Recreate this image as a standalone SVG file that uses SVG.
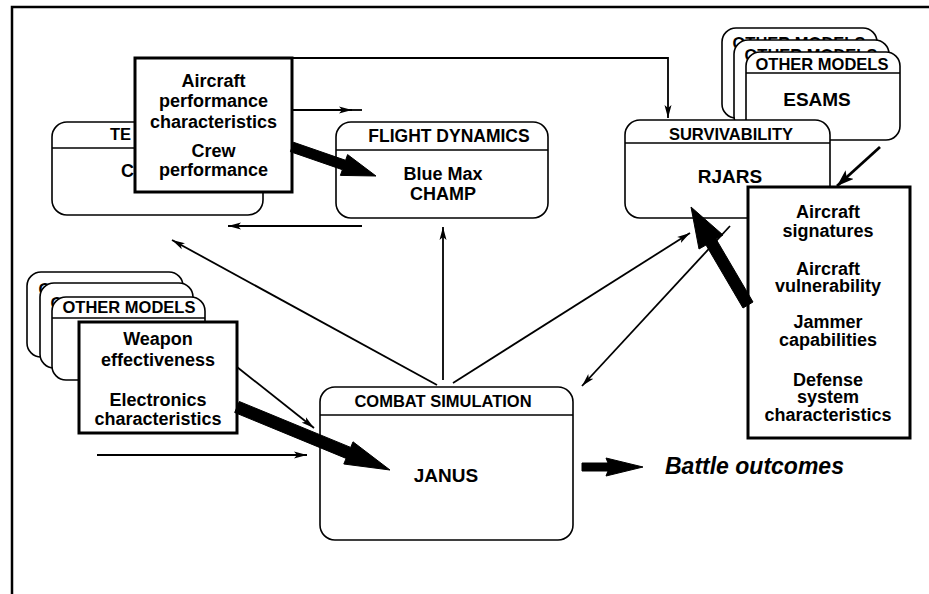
<svg xmlns="http://www.w3.org/2000/svg" width="929" height="594" viewBox="0 0 929 594">
<defs>
<style>
.node{fill:#fff;stroke:#000;stroke-width:1.6}
.hdr{fill:none;stroke:#000;stroke-width:1.6}
.data{fill:#fff;stroke:#000;stroke-width:3}
.t{font-family:"Liberation Sans",Arial,Helvetica,sans-serif;font-weight:bold;fill:#000;text-anchor:middle}
.h{font-size:16.5px}
.b{font-size:18px}
.c{fill:none;stroke:#000;stroke-width:1.8}
.thick{fill:#000;stroke:#000;stroke-width:1}
</style>
<marker id="ah" markerUnits="userSpaceOnUse" markerWidth="14" markerHeight="8" refX="13" refY="4" orient="auto">
<path d="M0,0.5 L13,4 L0,7.5 L3,4 z" fill="#000"/>
</marker>
<marker id="ahL" markerUnits="userSpaceOnUse" markerWidth="18" markerHeight="12" refX="17" refY="6" orient="auto">
<path d="M0,0 L17,6 L0,12 L4,6 z" fill="#000"/>
</marker>
</defs>
<rect width="929" height="594" fill="#fff"/>
<!-- frame -->
<path d="M12,594 V7 H929" fill="none" stroke="#000" stroke-width="2.5"/>

<!-- tech node (partially hidden) -->
<g id="node-tech">
<rect class="node" x="52" y="122" width="211" height="93" rx="15"/>
<line class="hdr" x1="52" y1="148" x2="263" y2="148"/>
<text class="t h" x="110" y="140" style="text-anchor:start">TE</text>
<text class="t b" x="121" y="177" style="text-anchor:start">C</text>
</g>

<!-- other models stack left -->
<g id="node-other-left">
<rect class="node" x="27" y="272" width="156" height="85" rx="14"/>
<text class="t h" x="105" y="295">OTHER MODELS</text>
<rect class="node" x="40" y="283" width="153" height="85" rx="14"/>
<text class="t h" x="117" y="309">OTHER MODELS</text>
<rect class="node" x="52" y="297" width="153" height="83" rx="14"/>
<line class="hdr" x1="52" y1="318" x2="205" y2="318"/>
<text class="t h" x="129" y="313">OTHER MODELS</text>
</g>

<!-- other models stack right (ESAMS) -->
<g id="node-esams">
<rect class="node" x="722" y="28" width="155" height="90" rx="14"/>
<text class="t h" x="799" y="49">OTHER MODELS</text>
<rect class="node" x="734" y="40" width="155" height="90" rx="14"/>
<text class="t h" x="811" y="61">OTHER MODELS</text>
<rect class="node" x="746" y="52" width="154" height="88" rx="14"/>
<line class="hdr" x1="746" y1="73" x2="900" y2="73"/>
<text class="t h" x="822" y="70">OTHER MODELS</text>
<text class="t b" x="817" y="106" style="font-size:19px">ESAMS</text>
</g>

<!-- flight dynamics -->
<g id="node-flight">
<rect class="node" x="336" y="122" width="212" height="96" rx="15"/>
<line class="hdr" x1="336" y1="150" x2="548" y2="150"/>
<text class="t" x="449" y="142" style="font-size:17.5px">FLIGHT DYNAMICS</text>
<text class="t b" x="443" y="180">Blue Max</text>
<text class="t b" x="443" y="200">CHAMP</text>
</g>

<!-- survivability -->
<g id="node-surv">
<rect class="node" x="625" y="120" width="205" height="98" rx="15"/>
<line class="hdr" x1="625" y1="143" x2="830" y2="143"/>
<text class="t" x="731" y="140" style="font-size:16.5px">SURVIVABILITY</text>
<text class="t b" x="730" y="183" style="font-size:19px">RJARS</text>
</g>

<!-- combat simulation -->
<g id="node-combat">
<rect class="node" x="320" y="387" width="253" height="153" rx="15"/>
<line class="hdr" x1="320" y1="415" x2="573" y2="415"/>
<text class="t h" x="443" y="407">COMBAT SIMULATION</text>
<text class="t b" x="446" y="482" style="font-size:19px">JANUS</text>
</g>

<!-- aircraft performance data box -->
<g id="node-aircraft-perf">
<rect class="data" x="135" y="58" width="157" height="134"/>
<text class="t b" x="213.5" y="87">Aircraft</text>
<text class="t b" x="213.5" y="107">performance</text>
<text class="t b" x="213.5" y="128">characteristics</text>
<text class="t b" x="213.5" y="157">Crew</text>
<text class="t b" x="213.5" y="176">performance</text>
</g>

<!-- weapon data box -->
<g id="node-weapon">
<rect class="data" x="79" y="322" width="158" height="111"/>
<text class="t b" x="158" y="345">Weapon</text>
<text class="t b" x="158" y="366">effectiveness</text>
<text class="t b" x="158" y="406">Electronics</text>
<text class="t b" x="158" y="425">characteristics</text>
</g>

<!-- signatures data box -->
<g id="node-signatures">
<rect class="data" x="748" y="187" width="162" height="251"/>
<text class="t b" x="828" y="218">Aircraft</text>
<text class="t b" x="828" y="237">signatures</text>
<text class="t b" x="828" y="275">Aircraft</text>
<text class="t b" x="828" y="292">vulnerability</text>
<text class="t b" x="828" y="328">Jammer</text>
<text class="t b" x="828" y="346">capabilities</text>
<text class="t b" x="828" y="386">Defense</text>
<text class="t b" x="828" y="403">system</text>
<text class="t b" x="828" y="421">characteristics</text>
</g>

<!-- battle outcomes label -->
<g id="node-outcomes">
<text class="t" x="665" y="474" style="text-anchor:start;font-size:23px;font-style:italic">Battle outcomes</text>
</g>

<!-- connectors -->
<g id="connectors">
<path class="c" d="M292,58 H668 V118" marker-end="url(#ah)"/>
<path class="c" d="M292,110 H352" marker-end="url(#ah)"/>
<path class="c" d="M352,110 H362"/>
<polygon class="thick" points="293.6,142.3 345.6,160.3 347.6,154.6 376,176 340.4,175.4 342.4,169.7 290.4,151.7"/>
<path class="c" d="M362,226 H228" marker-end="url(#ah)"/>
<path class="c" d="M443,380 V227" marker-end="url(#ah)"/>
<path class="c" d="M437,385 L172,240" marker-end="url(#ah)"/>
<path class="c" d="M453,383 L690,233" marker-end="url(#ah)"/>
<path class="c" d="M730,226 L582,386" marker-end="url(#ah)"/>
<polygon class="thick" points="691,207 723,235 716,239 753,302 743,308 706,245 699,249"/>
<path class="c" d="M880,147 L837,186" style="stroke-width:2.8" marker-end="url(#ahL)"/>
<path class="c" d="M237,367 L314,428" marker-end="url(#ah)"/>
<polygon class="thick" points="239.3,401.5 350.7,447.4 353,441.8 390,470 343.8,464 346.1,458.4 234.7,412.5"/>
<path class="c" d="M97,455 H307" marker-end="url(#ah)"/>
<polygon class="thick" points="582,463 608,463 606,458 643,467 606,476 608,471 582,471"/>
</g>
</svg>
